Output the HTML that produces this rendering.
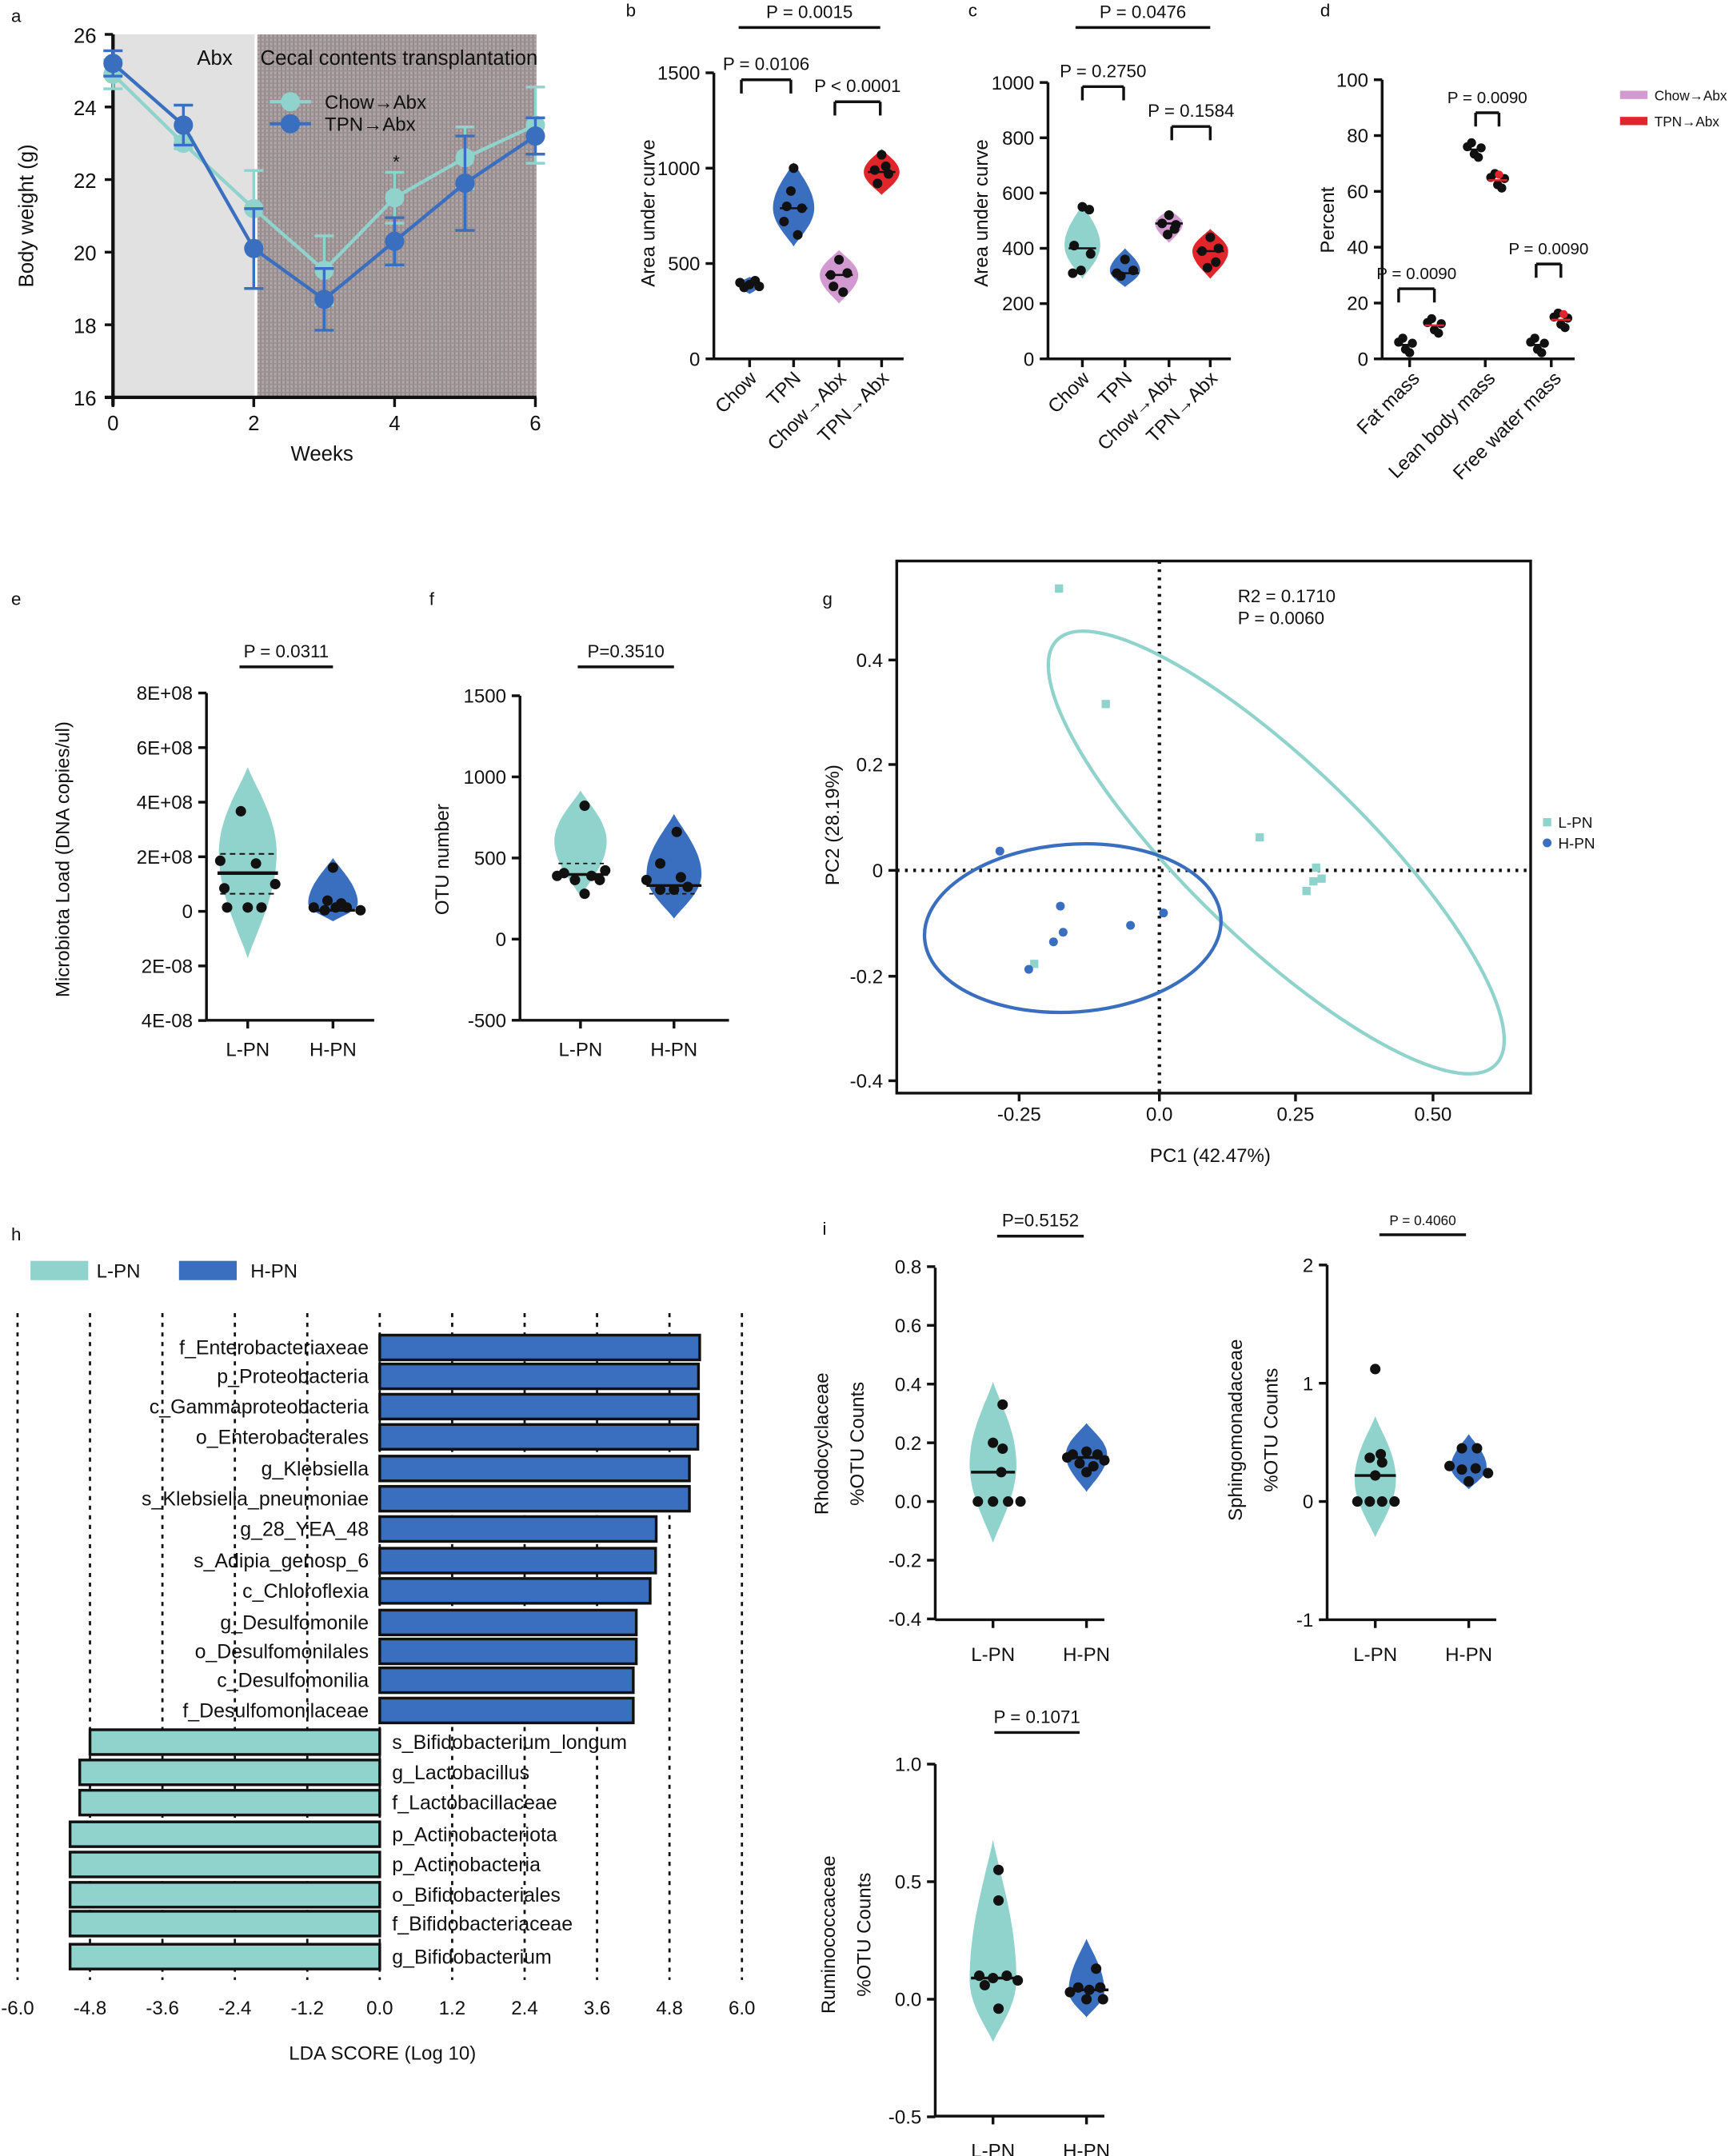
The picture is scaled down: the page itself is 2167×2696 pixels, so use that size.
<!DOCTYPE html>
<html><head><meta charset="utf-8">
<style>
html,body{margin:0;padding:0;background:#fff;}
svg{display:block;}
text{font-family:"Liberation Sans",sans-serif;fill:#111;}
</style></head>
<body>
<svg id="s" xmlns="http://www.w3.org/2000/svg" width="2167" height="2696" viewBox="0 0 1260 1568">
<defs>
<pattern id="mv" width="3" height="3" patternUnits="userSpaceOnUse">
<rect width="3" height="3" fill="#b0a6a8"/><rect width="1" height="3" fill="#8e8587"/><rect width="3" height="1" fill="#9a9092"/>
</pattern>
</defs>
</svg>
<script>
var S=document.getElementById('s');var out='';
var TEAL='#8fd3cc',BLUE='#3a6fbf',RED='#e0262b',PINK='#d39ad2';
function T(x,y,s,sz,anc,extra){out+='<text x="'+x+'" y="'+y+'" font-size="'+(sz||14)+'" text-anchor="'+(anc||'middle')+'" '+(extra||'')+'>'+s+'</text>';}
function L(x1,y1,x2,y2,w,c,d){out+='<line x1="'+x1+'" y1="'+y1+'" x2="'+x2+'" y2="'+y2+'" stroke="'+(c||'#111')+'" stroke-width="'+(w||2)+'"'+(d?' stroke-dasharray="'+d+'"':'')+'/>';}
function C(x,y,r,f){out+='<circle cx="'+x+'" cy="'+y+'" r="'+r+'" fill="'+f+'"/>';}
function R(x,y,w,h,f,st){out+='<rect x="'+x+'" y="'+y+'" width="'+w+'" height="'+h+'" fill="'+f+'"'+(st?' stroke="#111" stroke-width="2"':'')+'/>';}
function RT(x,y,s,sz,anc,ang){out+='<text transform="translate('+x+','+y+') rotate('+ang+')" font-size="'+sz+'" text-anchor="'+(anc||'middle')+'">'+s+'</text>';}
function V(cx,yT,yB,yP,W,col){var N=30,l=[],r=[];for(var i=0;i<=N;i++){var y=yT+(yB-yT)*i/N;var u=y<yP?(y-yT)/(yP-yT):(yB-y)/(yB-yP);var w=W*Math.pow(Math.sin(Math.max(0,u)*Math.PI/2),1.1);l.push((cx-w).toFixed(1)+','+y.toFixed(1));r.unshift((cx+w).toFixed(1)+','+y.toFixed(1));}
out+='<polygon points="'+l.concat(r).join(' ')+'" fill="'+col+'"/>';}
function bracket(x1,x2,y,lab,sz,tick){L(x1,y,x2,y,2);if(tick){L(x1,y,x1,y+10,2);L(x2,y,x2,y+10,2);}T((x1+x2)/2,y-7,lab,sz||12);}
// ===== a =====
T(8,16,'a',13,'start');
R(83,25,102,264,'#e1e1e1');R(187,25,203,264,'url(#mv)');
var ya=function(v){return 289-(v-16)*26.4;},xa=function(w){return 82+w*51.2;};
L(82,25,82,295,2.5);L(76,289,390,289,2.5);
[16,18,20,22,24,26].forEach(function(v){L(76,ya(v),82,ya(v),2);T(70,ya(v)+6,v,15,'end');});
[0,2,4,6].forEach(function(w){L(xa(w),289,xa(w),296,2);T(xa(w),313,w,15);});
T(234,335,'Weeks',15);RT(24,157,'Body weight (g)',15,'middle',-90);
T(156,47,'Abx',15);T(290,47,'Cecal contents transplantation',15);
var ch=[24.9,23.0,21.2,19.5,21.5,22.6,23.5],tp=[25.2,23.5,20.1,18.7,20.3,21.9,23.2];
var che=[0.4,0.15,1.05,0.95,0.7,0.85,1.05],tpe=[0.35,0.55,1.1,0.85,0.65,1.3,0.5];
function series(d,e,col){var p=d.map(function(v,i){return xa(i)+','+ya(v);}).join(' ');out+='<polyline points="'+p+'" fill="none" stroke="'+col+'" stroke-width="2.5"/>';
d.forEach(function(v,i){var x=xa(i);L(x,ya(v-e[i]),x,ya(v+e[i]),2,col);L(x-7,ya(v-e[i]),x+7,ya(v-e[i]),2,col);L(x-7,ya(v+e[i]),x+7,ya(v+e[i]),2,col);C(x,ya(v),7,col);});}
series(ch,che,TEAL);series(tp,tpe,BLUE);
T(288,122,'*',13);
L(196,74,226,74,2.5,TEAL);C(211,74,7,TEAL);T(236,79,'Chow→Abx',14,'start');
L(196,90,226,90,2.5,BLUE);C(211,90,7,BLUE);T(236,95,'TPN→Abx',14,'start');
// ===== b =====
T(455,12,'b',13,'start');
var yb=function(v){return 261-v*0.1387;};
L(519,53,519,261,2);L(519,261,657,261,2);
[0,500,1000,1500].forEach(function(v){L(513,yb(v),519,yb(v),2);T(509,yb(v)+5,v,14,'end');});
RT(476,155,'Area under curve',14,'middle',-90);
var bx=[545,577,610,641],bl=['Chow','TPN','Chow→Abx','TPN→Abx'];
bx.forEach(function(x,i){L(x,261,x,267,2);RT(x+6,276,bl[i],14,'end',-45);});
V(545,yb(430),yb(340),yb(390),8,BLUE);V(577,yb(1030),yb(590),yb(790),15,BLUE);V(610,yb(570),yb(290),yb(440),14,PINK);V(641,yb(1100),yb(860),yb(980),13,RED);
[[545,390],[538,400],[552,380],[541,375],[549,410]].forEach(function(p){C(p[0],yb(p[1]),3.5,'#111');});
[[577,1000],[572,800],[583,790],[570,720],[580,650],[575,880]].forEach(function(p){C(p[0],yb(p[1]),3.5,'#111');});
[[610,520],[604,440],[616,450],[606,380],[613,350]].forEach(function(p){C(p[0],yb(p[1]),3.5,'#111');});
[[641,1070],[636,990],[646,970],[638,920],[644,1010]].forEach(function(p){C(p[0],yb(p[1]),3.5,'#111');});
[[577,790],[610,440],[641,980],[545,390]].forEach(function(p){L(p[0]-10,yb(p[1]),p[0]+10,yb(p[1]),1.5);});
bracket(537,640,20,'P = 0.0015',13);bracket(539,575,58,'P = 0.0106',13,1);bracket(607,640,74,'P &lt; 0.0001',13,1);
// ===== c =====
T(704,12,'c',13,'start');
var yc=function(v){return 261-v*0.201;};
L(762,60,762,261,2);L(762,261,895,261,2);
[0,200,400,600,800,1000].forEach(function(v){L(756,yc(v),762,yc(v),2);T(752,yc(v)+5,v,14,'end');});
RT(718,155,'Area under curve',14,'middle',-90);
var cx=[787,818,850,880];
cx.forEach(function(x,i){L(x,261,x,267,2);RT(x+6,276,bl[i],14,'end',-45);});
V(787,yc(560),yc(290),yc(410),13,TEAL);V(818,yc(400),yc(260),yc(320),11,BLUE);V(850,yc(540),yc(420),yc(490),10,PINK);V(880,yc(470),yc(290),yc(390),13,RED);
[[787,550],[792,540],[781,410],[793,380],[786,320],[780,310]].forEach(function(p){C(p[0],yc(p[1]),3.5,'#111');});
[[818,360],[812,310],[824,320],[815,300]].forEach(function(p){C(p[0],yc(p[1]),3.5,'#111');});
[[850,520],[845,490],[855,485],[849,450],[854,470]].forEach(function(p){C(p[0],yc(p[1]),3.5,'#111');});
[[880,440],[874,390],[886,400],[878,330],[884,350]].forEach(function(p){C(p[0],yc(p[1]),3.5,'#111');});
[[787,400],[818,310],[850,490],[880,390]].forEach(function(p){L(p[0]-10,yc(p[1]),p[0]+10,yc(p[1]),1.5);});
bracket(782,880,20,'P = 0.0476',13);bracket(787,817,63,'P = 0.2750',13,1);bracket(852,880,92,'P = 0.1584',13,1);
// ===== d =====
T(960,12,'d',13,'start');
var yd=function(v){return 261-v*2.03;};
L(1005,58,1005,261,2);L(1005,261,1145,261,2);
[0,20,40,60,80,100].forEach(function(v){L(999,yd(v),1005,yd(v),2);T(995,yd(v)+5,v,14,'end');});
RT(970,160,'Percent',14,'middle',-90);
[[1025,'Fat mass'],[1080,'Lean body mass'],[1128,'Free water mass']].forEach(function(a){L(a[0],261,a[0],267,2);RT(a[0]+8,276,a[1],14,'end',-45);});
function grp(x,v,col){[[-5,0.5],[0,-0.8],[5,0.3],[-2,1.2],[3,-1.4]].forEach(function(o){C(x+o[0],yd(v+o[1]*2),3.3,'#111');});L(x-7,yd(v),x+7,yd(v),1.5,col);}
grp(1022,5,'#111');grp(1043,12,RED);grp(1072,75,'#111');grp(1089,64,RED);grp(1118,5,'#111');grp(1135,14,RED);
C(1137,yd(16),3,RED);C(1090,yd(66),3,RED);
bracket(1017,1043,210,'P = 0.0090',12,1);bracket(1073,1090,82,'P = 0.0090',12,1);bracket(1117,1135,192,'P = 0.0090',12,1);
R(1178,66,20,6,PINK);T(1203,73,'Chow→Abx',10,'start');R(1178,85,20,6,RED);T(1203,92,'TPN→Abx',10,'start');
// ===== e =====
T(8,440,'e',13,'start');
L(150,504,150,742,2);L(150,742,272,742,2);
var et=['8E+08','6E+08','4E+08','2E+08','0','2E-08','4E-08'];
et.forEach(function(s,i){var y=504+i*39.7;L(144,y,150,y,2);T(140,y+5,s,14,'end');});
RT(50,625,'Microbiota Load (DNA copies/ul)',14,'middle',-90);
[[180,'L-PN'],[242,'H-PN']].forEach(function(a){L(a[0],742,a[0],748,2);T(a[0],768,a[1],14);});
V(180,558,697,620,21,TEAL);V(242,624,670,657,18,BLUE);
L(158,635,202,635,2.5);L(160,621,200,621,1.2,'#111','4,3');L(160,650,200,650,1.2,'#111','4,3');
[[175,590],[160,626],[186,628],[163,646],[200,643],[190,660],[165,660],[180,660]].forEach(function(p){C(p[0],p[1],3.8,'#111');});
[[242,631],[228,660],[236,662],[244,660],[252,660],[262,662],[238,655],[248,657]].forEach(function(p){C(p[0],p[1],3.8,'#111');});
L(228,662,258,662,2);
bracket(174,242,485,'P = 0.0311',13);
// ===== f =====
T(312,440,'f',13,'start');
var yf=function(v){return 683-v*0.118;};
L(378,506,378,742,2);L(378,742,530,742,2);
[1500,1000,500,0,-500].forEach(function(v){L(372,yf(v),378,yf(v),2);T(368,yf(v)+5,v,14,'end');});
RT(326,625,'OTU number',14,'middle',-90);
[[422,'L-PN'],[490,'H-PN']].forEach(function(a){L(a[0],742,a[0],748,2);T(a[0],768,a[1],14);});
V(422,575,652,612,19,TEAL);V(490,592,668,636,20,BLUE);
L(404,636,442,636,2);L(470,644,510,644,2);L(406,628,440,628,1,'#111','3,3');L(472,650,508,650,1,'#111','3,3');
[[425,586],[405,637],[418,640],[430,637],[440,633],[425,650],[410,635],[436,640]].forEach(function(p){C(p[0],p[1],3.8,'#111');});
[[492,605],[480,628],[470,640],[495,638],[480,647],[490,647],[500,645]].forEach(function(p){C(p[0],p[1],3.8,'#111');});
bracket(420,490,485,'P=0.3510',13);
// ===== g =====
T(598,440,'g',13,'start');
out+='<rect x="652" y="408" width="461" height="387" fill="none" stroke="#111" stroke-width="2"/>';
L(843,408,843,795,2.5,'#111','2,4');L(652,633,1113,633,2.5,'#111','2,4');
[[-0.25,741],[0,843],[0.25,942],[0.5,1042]].forEach(function(a){L(a[1],795,a[1],801,2);T(a[1],815,a[0]===0?'0.0':a[0].toFixed(2),14);});
[[0.4,480],[0.2,556],[0,633],[-0.2,710],[-0.4,786]].forEach(function(a){L(646,a[1],652,a[1],2);T(642,a[1]+5,a[0]===0?'0':a[0].toFixed(1),14,'end');});
T(880,845,'PC1 (42.47%)',14);RT(610,600,'PC2 (28.19%)',14,'middle',-90);
T(900,438,'R2 = 0.1710',13,'start');T(900,454,'P = 0.0060',13,'start');
out+='<ellipse cx="928" cy="620" rx="222" ry="64" transform="rotate(44 928 620)" fill="none" stroke="'+TEAL+'" stroke-width="2.5"/>';
out+='<ellipse cx="780" cy="675" rx="108" ry="61" transform="rotate(-4 780 675)" fill="none" stroke="'+BLUE+'" stroke-width="2.5"/>';
[[770,428],[804,512],[916,609],[957,631],[961,639],[955,641],[950,648],[752,701]].forEach(function(p){R(p[0]-3,p[1]-3,6,6,TEAL);});
[[727,619],[771,659],[773,678],[766,685],[748,705],[822,673],[846,664]].forEach(function(p){C(p[0],p[1],3.2,BLUE);});
R(1122,595,6,6,TEAL);T(1133,602,'L-PN',11,'start');C(1125,613,3.2,BLUE);T(1133,617,'H-PN',11,'start');
// ===== h =====
T(8,902,'h',13,'start');
R(22,917,42,14,TEAL);T(70,929,'L-PN',14,'start');R(130,917,42,14,BLUE);T(182,929,'H-PN',14,'start');
var hx=function(v){return 276+v*43.9;};
[-6,-4.8,-3.6,-2.4,-1.2,0,1.2,2.4,3.6,4.8,6].forEach(function(v){L(hx(v),955,hx(v),1440,1.6,'#111','3,4');T(hx(v),1465,v.toFixed(1),14);});
T(278,1498,'LDA SCORE (Log 10)',14);
var rows=[['f_Enterobacteriaxeae',5.3],['p_Proteobacteria',5.28],['c_Gammaproteobacteria',5.28],['o_Enterobacterales',5.27],['g_Klebsiella',5.13],['s_Klebsiella_pneumoniae',5.13],['g_28_YEA_48',4.58],['s_Adipia_genosp_6',4.57],['c_Chloroflexia',4.48],['g_Desulfomonile',4.25],['o_Desulfomonilales',4.25],['c_Desulfomonilia',4.2],['f_Desulfomonilaceae',4.2],
['s_Bifidobacterium_longum',-4.8],['g_Lactobacillus',-4.97],['f_Lactobacillaceae',-4.97],['p_Actinobacteriota',-5.13],['p_Actinobacteria',-5.13],['o_Bifidobacteriales',-5.13],['f_Bifidobacteriaceae',-5.13],['g_Bifidobacterium',-5.13]];
var ry=[980,1001,1023,1045,1068,1090,1112,1135,1157,1180,1201,1222,1244,1267,1289,1311,1334,1356,1378,1399,1423];
rows.forEach(function(r,i){var y=ry[i];if(r[1]>0){R(hx(0),y-9,hx(r[1])-hx(0),18,BLUE,1);T(268,y+5,r[0],14.5,'end');}else{R(hx(r[1]),y-9,hx(0)-hx(r[1]),18,TEAL,1);T(285,y+5,r[0],14.5,'start');}});
// ===== i =====
T(598,898,'i',13,'start');
function ip(ax,top,bot,ticks,ylab1,ylab2,lx,hx2){L(ax,top,ax,bot,2);L(ax,bot,ax+123,bot,2);ticks.forEach(function(t){L(ax-6,t[1],ax,t[1],2);T(ax-10,t[1]+5,t[0],14,'end');});
L(lx,bot,lx,bot+6,2);L(hx2,bot,hx2,bot+6,2);T(lx,bot+30,'L-PN',14);T(hx2,bot+30,'H-PN',14);}
var y1=function(v){return 1092-v*213.5;};
ip(680,922,1178,[['0.8',y1(0.8)],['0.6',y1(0.6)],['0.4',y1(0.4)],['0.2',y1(0.2)],['0.0',y1(0)],['-0.2',y1(-0.2)],['-0.4',y1(-0.4)]],0,0,722,790);
RT(602,1050,'Rhodocyclaceae',14,'middle',-90);RT(628,1050,'%OTU Counts',14,'middle',-90);
V(722,1005,1122,1065,17,TEAL);V(790,1035,1085,1058,15,BLUE);
L(706,y1(0.1),738,y1(0.1),2);L(775,y1(0.15),806,y1(0.15),2);
[[729,y1(0.33)],[722,y1(0.2)],[729,y1(0.18)],[728,y1(0.1)],[711,y1(0)],[722,y1(0)],[733,y1(0)],[742,y1(0)]].forEach(function(p){C(p[0],p[1],3.8,'#111');});
[[780,y1(0.16)],[790,y1(0.17)],[798,y1(0.16)],[785,y1(0.13)],[795,y1(0.12)],[790,y1(0.1)],[776,y1(0.15)],[803,y1(0.14)]].forEach(function(p){C(p[0],p[1],3.8,'#111');});
bracket(725,788,899,'P=0.5152',13);
var y2=function(v){return 1092-v*86;};
ip(965,920,1178,[['2',y2(2)],['1',y2(1)],['0',y2(0)],['-1',y2(-1)]],0,0,1000,1068);
RT(903,1040,'Sphingomonadaceae',14,'middle',-90);RT(929,1040,'%OTU Counts',14,'middle',-90);
V(1000,1030,1118,1076,15,TEAL);V(1068,1043,1083,1067,13,BLUE);
L(985,y2(0.22),1015,y2(0.22),2);
[[1000,y2(1.12)],[996,y2(0.37)],[1004,y2(0.4)],[1005,y2(0.33)],[1000,y2(0.22)],[987,y2(0)],[996,y2(0)],[1005,y2(0)],[1014,y2(0)]].forEach(function(p){C(p[0],p[1],3.8,'#111');});
[[1063,y2(0.45)],[1074,y2(0.45)],[1054,y2(0.3)],[1063,y2(0.27)],[1073,y2(0.28)],[1082,y2(0.24)],[1068,y2(0.17)]].forEach(function(p){C(p[0],p[1],3.8,'#111');});
bracket(1003,1066,898,'P = 0.4060',10);
var y3=function(v){return 1454-v*171;};
ip(680,1283,1539,[['1.0',y3(1)],['0.5',y3(0.5)],['0.0',y3(0)],['-0.5',y3(-0.5)]],0,0,722,790);
RT(607,1407,'Ruminococcaceae',14,'middle',-90);RT(633,1407,'%OTU Counts',14,'middle',-90);
V(722,1338,1485,1440,17,TEAL);V(790,1410,1467,1448,13,BLUE);
L(706,y3(0.09),738,y3(0.09),2);L(775,y3(0.04),806,y3(0.04),2);
[[726,y3(0.55)],[726,y3(0.42)],[712,y3(0.1)],[722,y3(0.09)],[732,y3(0.1)],[716,y3(0.06)],[740,y3(0.08)],[726,y3(-0.04)]].forEach(function(p){C(p[0],p[1],3.8,'#111');});
[[797,y3(0.13)],[784,y3(0.05)],[792,y3(0.04)],[800,y3(0.05)],[778,y3(0.03)],[790,y3(-0.0)],[802,y3(0.0)]].forEach(function(p){C(p[0],p[1],3.8,'#111');});
bracket(723,785,1260,'P = 0.1071',13);
S.insertAdjacentHTML('beforeend',out);
</script>
</body></html>
